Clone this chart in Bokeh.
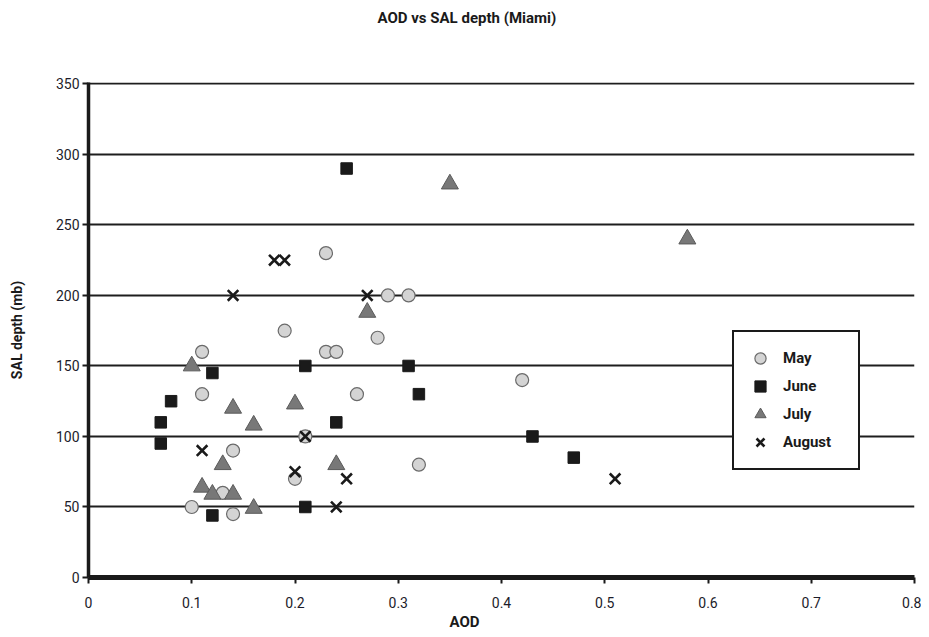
from bokeh.plotting import figure
from bokeh.models import (Range1d, FixedTicker, CustomJSTickFormatter, Legend, LegendItem, Title)
from bokeh.embed import file_html
from bokeh.resources import INLINE

# ---- data ----
may_aod = [0.10, 0.11, 0.11, 0.14, 0.13, 0.14, 0.19, 0.20, 0.23, 0.28, 0.29, 0.31, 0.23, 0.24, 0.26, 0.32, 0.42, 0.21]
may_sal = [50, 160, 130, 90, 60, 45, 175, 70, 230, 170, 200, 200, 160, 160, 130, 80, 140, 100]

june_aod = [0.07, 0.07, 0.08, 0.12, 0.12, 0.21, 0.24, 0.21, 0.31, 0.32, 0.25, 0.43, 0.47]
june_sal = [110, 95, 125, 145, 44, 50, 110, 150, 150, 130, 290, 100, 85]

july_aod = [0.10, 0.14, 0.16, 0.13, 0.11, 0.12, 0.14, 0.16, 0.20, 0.24, 0.27, 0.35, 0.58]
july_sal = [150, 120, 108, 80, 64, 59, 59, 49, 123, 80, 188, 279, 240]

aug_aod = [0.11, 0.14, 0.18, 0.19, 0.20, 0.25, 0.24, 0.21, 0.27, 0.51]
aug_sal = [90, 200, 225, 225, 75, 70, 50, 100, 200, 70]

x_ticks = [0, 0.1, 0.2, 0.3, 0.4, 0.5, 0.6, 0.7, 0.8]
y_ticks = [0, 50, 100, 150, 200, 250, 300, 350]

title_text = "AOD vs SAL depth (Miami)"
x_label = "AOD"
y_label = "SAL depth (mb)"
series_names = ["May", "June", "July", "August"]

FONT = "Roboto"
INK = "#1a1a1a"

# y range ends a hair above 350 so that the 350 grid line is drawn inside the frame
p = figure(width=921, height=629, output_backend="svg", toolbar_location=None,
           x_range=Range1d(0, 0.8), y_range=Range1d(0, 351),
           min_border_left=88, min_border_right=7, min_border_top=82, min_border_bottom=52)
p.frame_width = 826
p.frame_height = 495
p.outline_line_color = None
p.background_fill_color = "white"
p.border_fill_color = "white"

# title (trailing blank lines keep it near the top of the picture)
p.title.text = title_text + "\n\n\n"
p.title.align = "left"
p.title.offset = 289
p.title.vertical_align = "top"
p.title.standoff = 0
p.title.text_font = FONT
p.title.text_font_style = "bold"
p.title.text_font_size = "15px"
p.title.text_color = INK

# grid
p.xgrid.grid_line_color = None
p.ygrid.grid_line_color = "#1e1e1e"
p.ygrid.grid_line_width = 2
p.ygrid.ticker = FixedTicker(ticks=y_ticks)

fmt = CustomJSTickFormatter(code="return String(tick)")
for ax, ticks in ((p.xaxis[0], x_ticks), (p.yaxis[0], y_ticks)):
    ax.ticker = FixedTicker(ticks=ticks)
    ax.formatter = fmt
    ax.axis_line_color = INK
    ax.major_tick_line_color = INK
    ax.major_tick_line_width = 2
    ax.major_tick_in = 0
    ax.major_tick_out = 6
    ax.minor_tick_line_color = None
    ax.major_label_text_font = FONT
    ax.major_label_text_font_size = "14px"
    ax.major_label_text_color = "#1c1c2a"

p.xaxis.axis_line_width = 5
p.yaxis.axis_line_width = 3.5
p.xaxis.major_label_standoff = 13
p.yaxis.major_label_standoff = 3

p.yaxis.axis_label = y_label
p.yaxis.axis_label_text_font = FONT
p.yaxis.axis_label_text_font_style = "bold"
p.yaxis.axis_label_text_font_size = "14px"
p.yaxis.axis_label_text_color = INK
p.yaxis.axis_label_standoff = 28

# x axis label, centred on the whole picture as in the reference
p.add_layout(Title(text=x_label, align="left", offset=361, standoff=0, text_font=FONT,
                   text_font_style="bold", text_font_size="15px", text_color=INK), "below")

# markers
r_may = p.scatter(may_aod, may_sal, marker="circle", size=13, fill_color="#d4d4d4",
                  line_color="#6a6a6a", line_width=1.2)
r_jun = p.scatter(june_aod, june_sal, marker="square", size=11.5, fill_color=INK,
                  line_color=INK, line_width=1)
r_jul = p.scatter(july_aod, july_sal, marker="triangle", size=17, fill_color="#787878",
                  line_color="#5a5a5a", line_width=1)
r_aug = p.scatter(aug_aod, aug_sal, marker="x", size=15, line_color=INK, line_width=2.6)

legend = Legend(items=[LegendItem(label=n, renderers=[r]) for n, r in
                       zip(series_names, [r_may, r_jun, r_jul, r_aug])],
                location=(644, 107))
legend.border_line_color = INK
legend.border_line_alpha = 1
legend.border_line_width = 2.5
legend.background_fill_alpha = 1
legend.padding = 12
legend.spacing = 0
legend.label_height = 28
legend.glyph_height = 28
legend.glyph_width = 28
legend.label_standoff = 9
legend.label_width = 63
legend.margin = 0
legend.label_text_font = FONT
legend.label_text_font_size = "15px"
legend.label_text_font_style = "bold"
legend.label_text_color = INK
p.add_layout(legend, "center")

open("out.html", "w").write(file_html(p, INLINE))
